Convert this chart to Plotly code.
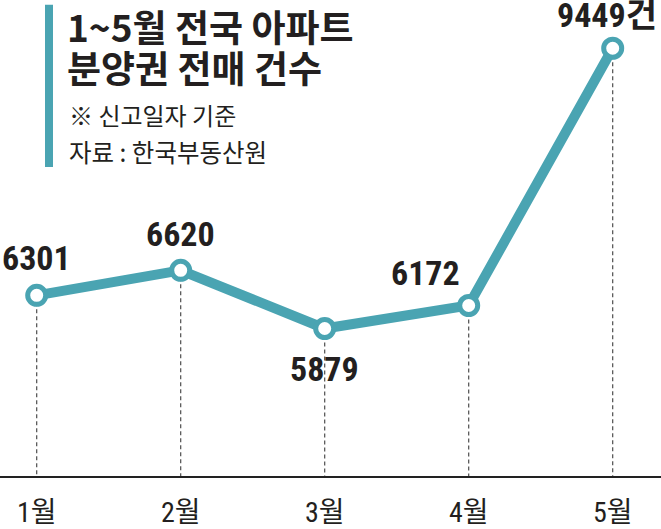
import plotly.graph_objects as go

months = ["1월", "2월", "3월", "4월", "5월"]
counts = [6301, 6620, 5879, 6172, 9449]
label_suffix = ["", "", "", "", "건"]
label_dx = [0, 0, 0, -43, -6]
label_dy = [37, 36, -40, 33, 33]

title_lines = ["1~5월 전국 아파트", "분양권 전매 건수"]
note_text = "※ 신고일자 기준"
source_text = "자료 : 한국부동산원"

TEAL = "#4aa4b2"
Y_MIN, Y_MAX = 4000, 10000
NUM_FONT = "Liberation Sans Narrow, Roboto Condensed, Arial Narrow, Noto Sans CJK KR"
KR_FONT = "Noto Sans CJK KR"

W, HT = 661, 529
TOP = 5.3
BASE = 484.3
PLOT_H = BASE - TOP

fig = go.Figure()

# dashed drop lines from each point down to the baseline
dx, dy = [], []
for m, v in zip(months, counts):
    dx += [m, m, None]
    dy += [v, Y_MIN, None]
fig.add_trace(go.Scatter(
    x=dx, y=dy, mode="lines",
    line=dict(color="#4d4d4d", width=1.2, dash="4px,3px"),
    hoverinfo="skip", showlegend=False,
))

fig.add_trace(go.Scatter(
    x=months, y=counts, mode="lines+markers",
    line=dict(color=TEAL, width=10),
    marker=dict(size=18, color="white", line=dict(color=TEAL, width=5)),
    cliponaxis=False, showlegend=False,
))

annotations = []
for m, v, s, ox, oy in zip(months, counts, label_suffix, label_dx, label_dy):
    annotations.append(dict(
        x=m, y=v, xref="x", yref="y", text=f"<b>{v}{s}</b>", showarrow=False,
        xshift=ox, yshift=oy, xanchor="center", yanchor="middle",
        font=dict(family=NUM_FONT, size=34, color="#231f20"),
    ))

def py(p):
    return (BASE - p) / PLOT_H

def px(p):
    return p / W

annotations += [
    dict(x=px(65), y=py(27), xref="paper", yref="paper", text=f"<b>{title_lines[0]}</b>",
         showarrow=False, xanchor="left", yanchor="middle",
         font=dict(family=KR_FONT, size=37, color="#231f20")),
    dict(x=px(65), y=py(68), xref="paper", yref="paper", text=f"<b>{title_lines[1]}</b>",
         showarrow=False, xanchor="left", yanchor="middle",
         font=dict(family=KR_FONT, size=37, color="#231f20")),
    dict(x=px(67), y=py(117), xref="paper", yref="paper", text=note_text,
         showarrow=False, xanchor="left", yanchor="middle",
         font=dict(family=KR_FONT, size=24, color="#231f20")),
    dict(x=px(67), y=py(154), xref="paper", yref="paper", text=source_text,
         showarrow=False, xanchor="left", yanchor="middle",
         font=dict(family=KR_FONT, size=24.5, color="#231f20")),
]

fig.update_layout(
    width=W, height=HT,
    margin=dict(l=0, r=0, t=TOP, b=HT - BASE),
    paper_bgcolor="white", plot_bgcolor="white",
    annotations=annotations,
    shapes=[dict(type="rect", xref="paper", yref="paper",
                 x0=px(45), x1=px(53), y0=py(170), y1=py(5),
                 fillcolor=TEAL, line=dict(width=0), layer="above")],
    xaxis=dict(range=[-36.7/144, (W - 36.7)/144], showgrid=False, zeroline=False,
               showline=True, linecolor="#222222", linewidth=2,
               ticks="outside", ticklen=10, tickcolor="rgba(0,0,0,0)",
               tickfont=dict(family=NUM_FONT, size=28, color="#231f20"),
               fixedrange=True),
    yaxis=dict(range=[Y_MIN, Y_MAX], visible=False, showgrid=False, fixedrange=True),
    showlegend=False,
)

fig.write_html("out.html",
               config={"displayModeBar": False},
               post_script="document.body.style.margin='0';document.body.style.overflow='hidden';")
